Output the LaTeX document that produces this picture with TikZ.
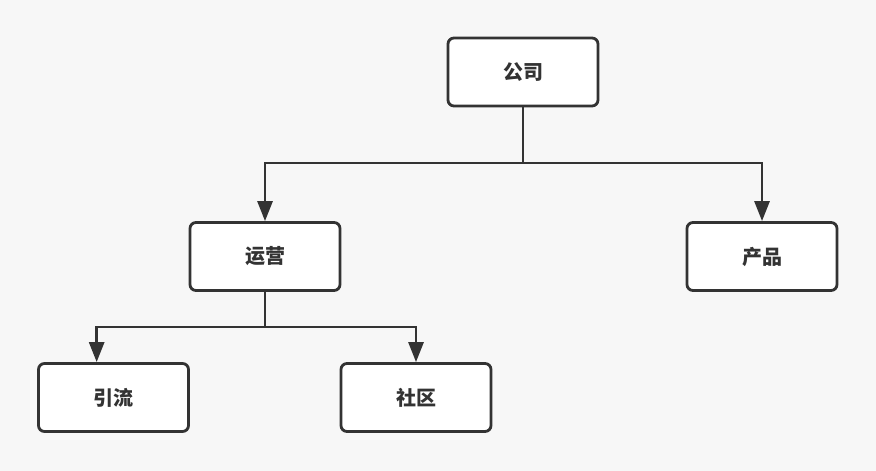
\documentclass[tikz,border=0pt]{standalone}
\usepackage{fontspec}
\newfontfamily\cjk{Noto Sans CJK SC}
\usetikzlibrary{arrows.meta, positioning, calc}
\definecolor{bgc}{HTML}{F7F7F7}
\definecolor{ink}{HTML}{333333}
\tikzset{
  box/.style={rectangle, rounded corners=6pt, draw=ink, fill=white, line width=2.8pt,
              minimum width=150pt, minimum height=68pt, text=ink,
              font=\cjk\bfseries\fontsize{20}{22}\selectfont},
  fl/.style={-{Triangle[length=20pt, width=15pt]}, draw=ink, line width=2.8pt}
}
\begin{document}
\begin{tikzpicture}[x=1pt, y=-1pt]
\fill[bgc] (0,0) rectangle (876,471);
\useasboundingbox (0,0) rectangle (876,471);
\node[box] (gs) at (523,72) {公司};
\node[box] (yy) at (265,256.5) {运营};
\node[box] (cp) at (762,256.5) {产品};
\node[box] (yl) at (113.5,397.5) {引流};
\node[box] (sq) at (416,397.5) {社区};
\coordinate (s1) at (523,163);
\coordinate (s2) at (265,327);
\coordinate (yl-in) at ($(yl.north west)!0.39!(yl.north east)$);
\draw[fl] (gs.south) -- (s1) -| (yy.north);
\draw[fl] (s1) -| (cp.north);
\draw[fl] (yy.south) -- (s2) -| (yl-in);
\draw[fl] (s2) -| (sq.north);
\end{tikzpicture}
\end{document}
